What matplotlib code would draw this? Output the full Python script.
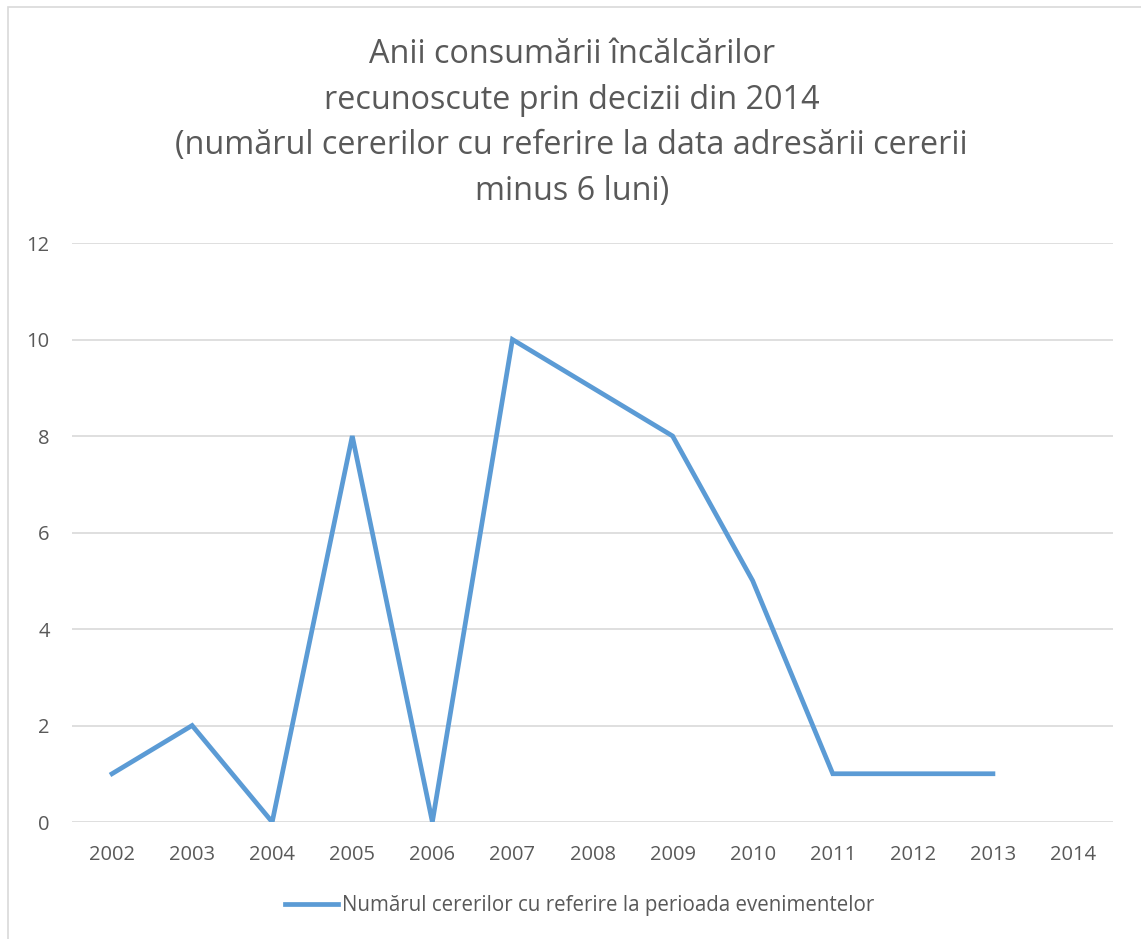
import matplotlib
matplotlib.use('Agg')
import numpy as np
import matplotlib.pyplot as plt
from matplotlib.patches import Rectangle

## data
years = ['2002', '2003', '2004', '2005', '2006', '2007', '2008',
         '2009', '2010', '2011', '2012', '2013', '2014']
values = [1, 2, 0, 8, 0, 10, 9, 8, 5, 1, 1, 1, np.nan]
series_name = 'Numărul cererilor cu referire la perioada evenimentelor'
title = ('Anii consumării încălcărilor\n'
         'recunoscute prin decizii din 2014\n'
         '(numărul cererilor cu referire la data adresării cererii\n'
         'minus 6 luni)')

plt.rcParams['font.family'] = ['Open Sans', 'DejaVu Sans']
txt = '#595959'
blue = '#5B9BD5'

fig = plt.figure(figsize=(11.41, 9.39), dpi=100)
ax = fig.add_axes([0.0631, 0.1246, 0.9124, 0.6166])

x = np.arange(len(years))
ax.plot(x, values, color=blue, lw=3.4, solid_joinstyle='miter', label=series_name)

ax.set_xlim(-0.5, len(years) - 0.5)
ax.set_ylim(0, 12)
ax.set_yticks(np.arange(0, 13, 2))
ax.set_xticks(x)
ax.set_xticklabels(years)
ax.yaxis.grid(True, color='#D9D9D9', lw=1.2)
ax.set_axisbelow(True)
for s in ax.spines.values():
    s.set_visible(False)
ax.tick_params(length=0, labelsize=14.5, colors=txt)
ax.tick_params(axis='x', pad=16.5)
ax.tick_params(axis='y', pad=16)

fig.text(0.501, 1 - 123 / 939, title, ha='center', va='center', fontsize=23.3,
         color=txt, linespacing=1.5)

leg = fig.legend(loc='center', bbox_to_anchor=(0.508, 0.036), frameon=False,
                 fontsize=14.8, handlelength=2.6, handletextpad=0.2)
for t in leg.get_texts():
    t.set_color(txt)

# chart border
fig.patches.append(Rectangle((8 / 1141, -0.01), 1.02, 1 - 7 / 939 + 0.01,
                             transform=fig.transFigure, fill=False,
                             edgecolor='#D9D9D9', lw=1.2))

fig.savefig('out.png', dpi=100)
